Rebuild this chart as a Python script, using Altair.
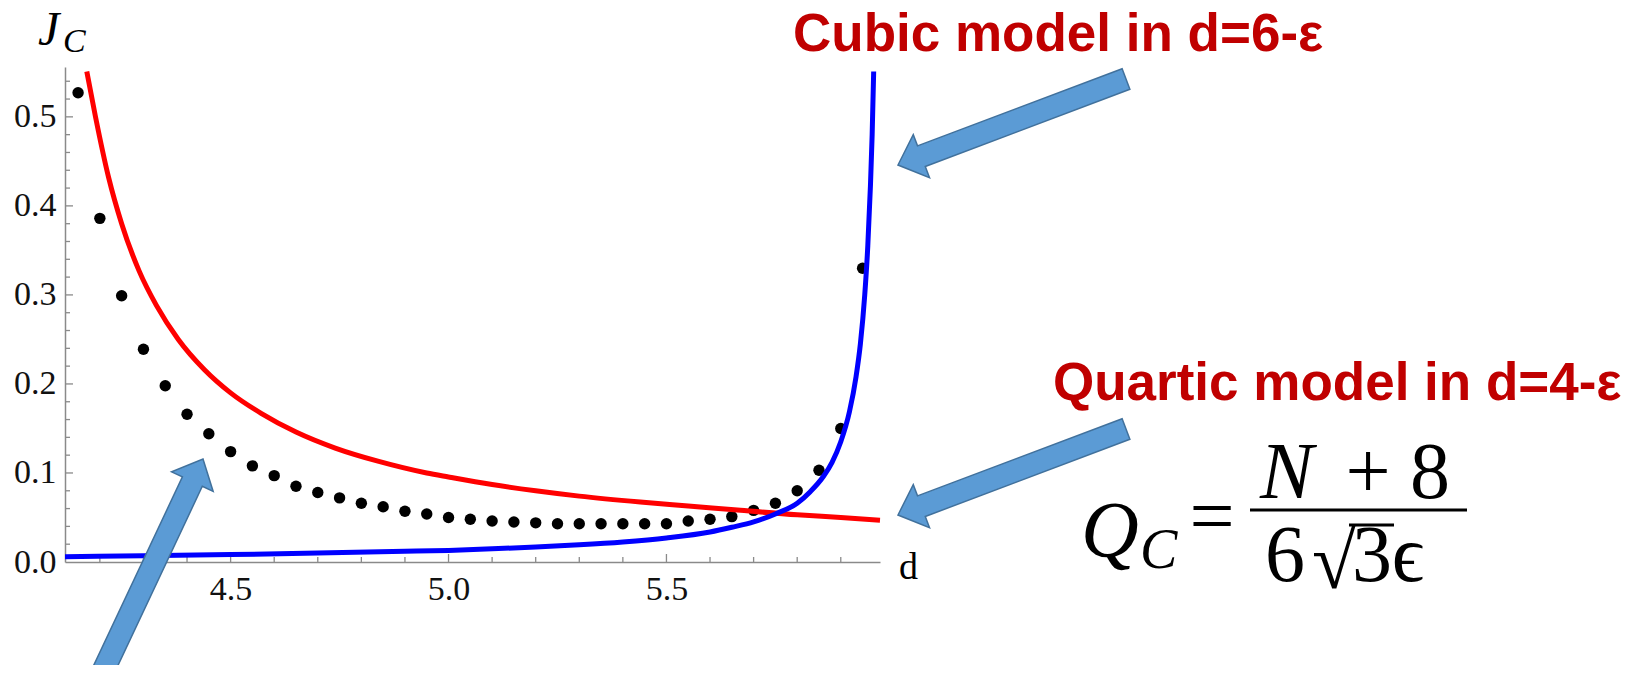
import math
import altair as alt
import pandas as pd

# ---------------- data ----------------
dot_d = [4.15, 4.20, 4.25, 4.30, 4.35, 4.40, 4.45, 4.50, 4.55, 4.60, 4.65, 4.70,
         4.75, 4.80, 4.85, 4.90, 4.95, 5.00, 5.05, 5.10, 5.15, 5.20, 5.25, 5.30,
         5.35, 5.40, 5.45, 5.50, 5.55, 5.60, 5.65, 5.70, 5.75, 5.80, 5.85, 5.90, 5.95]
dot_j = [0.527, 0.386, 0.299, 0.239, 0.198, 0.166, 0.144, 0.124, 0.108, 0.097, 0.085, 0.078,
         0.072, 0.066, 0.062, 0.057, 0.054, 0.050, 0.048, 0.046, 0.045, 0.044, 0.043, 0.043,
         0.043, 0.043, 0.043, 0.043, 0.046, 0.048, 0.051, 0.058, 0.066, 0.080, 0.103, 0.150, 0.330]

quartic_d = [4.17, 4.19, 4.22, 4.25, 4.29, 4.33, 4.38, 4.44, 4.50, 4.57, 4.65, 4.74,
             4.84, 4.95, 5.00, 5.10, 5.20, 5.30, 5.44, 5.55, 5.67, 5.80, 5.90, 5.99]
quartic_j = [0.551, 0.500, 0.432, 0.380, 0.327, 0.288, 0.250, 0.216, 0.190, 0.167, 0.146, 0.128,
             0.113, 0.100, 0.0955, 0.087, 0.080, 0.074, 0.0674, 0.063, 0.058, 0.053, 0.050, 0.047]

cubic_d = [4.12, 4.30, 4.50, 4.70, 4.90, 5.00, 5.10, 5.20, 5.30, 5.40, 5.50, 5.60, 5.65,
           5.70, 5.75, 5.80, 5.83, 5.86, 5.88, 5.90, 5.92, 5.935, 5.945, 5.955, 5.962,
           5.968, 5.972, 5.9755]
cubic_j = [0.0060, 0.0070, 0.0083, 0.0100, 0.0120, 0.0130, 0.0148, 0.0168, 0.0193, 0.0225,
           0.0270, 0.0337, 0.0390, 0.0450, 0.0540, 0.0660, 0.0790, 0.0960, 0.1120, 0.1350,
           0.1690, 0.2080, 0.2450, 0.3000, 0.3550, 0.4220, 0.4800, 0.5510]

x_tick_labels = [4.5, 5.0, 5.5]
x_minor_ticks = [4.2, 4.3, 4.4, 4.6, 4.7, 4.8, 4.9, 5.1, 5.2, 5.3, 5.4, 5.6, 5.7, 5.8, 5.9]
y_tick_labels = [0.0, 0.1, 0.2, 0.3, 0.4, 0.5]
y_major_ticks = [0.1, 0.2, 0.3, 0.4, 0.5]
y_minor_ticks = [0.02, 0.04, 0.06, 0.08, 0.12, 0.14, 0.16, 0.18, 0.22, 0.24, 0.26, 0.28,
                 0.32, 0.34, 0.36, 0.38, 0.42, 0.44, 0.46, 0.48, 0.52, 0.54]

title_cubic = "Cubic model in d=6-ε"
title_quartic = "Quartic model in d=4-ε"

# ---------------- layout ----------------
W, H = 815, 495          # plot area
OX, OY = 65, 67          # plot origin on the page


def px(x):
    return x - OX


def py(y):
    return y - OY


AXIS_GREY = "#8a8a8a"
SERIF = "Liberation Serif"
SANS = "Liberation Sans"
RED_TXT = "#C00000"

x_scale = alt.Scale(domain=[4.12, 5.99], zero=False, nice=False)
y_scale = alt.Scale(domain=[0, 0.556], zero=False, nice=False)

one = pd.DataFrame({"k": [0]})

x_axis = alt.Axis(values=x_tick_labels, format=".1f", title=None, ticks=False, tickSize=0,
                  grid=False, domainColor=AXIS_GREY, domainWidth=1.5, labelFont=SERIF,
                  labelFontSize=34, labelColor="#111111", labelPadding=10)
y_axis = alt.Axis(values=y_tick_labels, format=".1f", title=None, ticks=False, tickSize=0,
                  grid=False, domainColor=AXIS_GREY, domainWidth=1.5, labelFont=SERIF,
                  labelFontSize=34, labelColor="#111111", labelPadding=9)

X = lambda f: alt.X(f, scale=x_scale, axis=x_axis)
Y = lambda f: alt.Y(f, scale=y_scale, axis=y_axis)

dots = alt.Chart(pd.DataFrame({"d": dot_d, "J": dot_j})).mark_circle(
    size=130, color="black", opacity=1
).encode(x=X("d:Q"), y=Y("J:Q"))

red = alt.Chart(pd.DataFrame({"d": quartic_d, "J": quartic_j})).mark_line(
    color="#FF0000", strokeWidth=5, interpolate="monotone"
).encode(x=X("d:Q"), y=Y("J:Q"))

blue = alt.Chart(pd.DataFrame({"d": cubic_d, "J": cubic_j})).mark_line(
    color="#0000FF", strokeWidth=5, interpolate="monotone"
).encode(x=X("d:Q"), y=Y("J:Q"))

# inward ticks (Mathematica style)
xt_major = alt.Chart(pd.DataFrame({"t": x_tick_labels})).mark_rule(color=AXIS_GREY, strokeWidth=1.3).encode(
    x=X("t:Q"), y=alt.value(H), y2=alt.value(H - 8))
xt_minor = alt.Chart(pd.DataFrame({"t": x_minor_ticks})).mark_rule(color=AXIS_GREY, strokeWidth=1.3).encode(
    x=X("t:Q"), y=alt.value(H), y2=alt.value(H - 5))
yt_major = alt.Chart(pd.DataFrame({"t": y_major_ticks})).mark_rule(color=AXIS_GREY, strokeWidth=1.3).encode(
    y=Y("t:Q"), x=alt.value(0), x2=alt.value(8))
yt_minor = alt.Chart(pd.DataFrame({"t": y_minor_ticks})).mark_rule(color=AXIS_GREY, strokeWidth=1.3).encode(
    y=Y("t:Q"), x=alt.value(0), x2=alt.value(5))


def txt(s, x, y, size, font=SERIF, color="#000000", weight="normal", style="normal",
        align="left", baseline="alphabetic"):
    return alt.Chart(one).mark_text(
        text=s, font=font, fontSize=size, fontWeight=weight, fontStyle=style,
        color=color, align=align, baseline=baseline
    ).encode(x=alt.value(px(x)), y=alt.value(py(y)))


def hline(x1, x2, y, width=3, color="#000000"):
    return alt.Chart(one).mark_rule(color=color, strokeWidth=width).encode(
        x=alt.value(px(x1)), x2=alt.value(px(x2)), y=alt.value(py(y)))


def arrow(tail, tip, shaft=22, head_w=46, head_l=25):
    dx, dy = tip[0] - tail[0], tip[1] - tail[1]
    L = math.hypot(dx, dy)
    ux, uy = dx / L, dy / L
    nx, ny = -uy, ux
    sw, hw = shaft / 2, head_w / 2
    pts = [
        (-L * ux + nx * sw, -L * uy + ny * sw),
        (-head_l * ux + nx * sw, -head_l * uy + ny * sw),
        (-head_l * ux + nx * hw, -head_l * uy + ny * hw),
        (0, 0),
        (-head_l * ux - nx * hw, -head_l * uy - ny * hw),
        (-head_l * ux - nx * sw, -head_l * uy - ny * sw),
        (-L * ux - nx * sw, -L * uy - ny * sw),
    ]
    path = "M" + " L".join(f"{a:.2f},{b:.2f}" for a, b in pts) + " Z"
    return alt.Chart(one).mark_point(
        shape=path, size=4, filled=True, fill="#5B9BD5", stroke="#41719C",
        strokeWidth=1.5, opacity=1
    ).encode(x=alt.value(px(tip[0])), y=alt.value(py(tip[1])))


annotations = [
    # axis labels
    txt("J", 38, 45, 48, style="italic"),
    txt("C", 63, 52, 34, style="italic"),
    txt("d", 899, 579, 38),
    # headings
    txt(title_cubic, 793, 51, 53, font=SANS, color=RED_TXT, weight="bold"),
    txt(title_quartic, 1053, 400, 53, font=SANS, color=RED_TXT, weight="bold"),
    # formula Q_c = (N+8)/(6 sqrt(3) eps)
    txt("Q", 1081, 557, 80, style="italic"),
    txt("C", 1140, 568, 56, style="italic"),
    txt("=", 1212, 543, 80, align="center"),
    hline(1250, 1467, 510, width=3),
    txt("N", 1260, 498, 80, style="italic"),
    txt("+", 1368, 498, 80, align="center"),
    txt("8", 1430, 498, 80, align="center"),
    txt("6", 1285, 581, 80, align="center"),
    txt("√", 1334, 588, 80, align="center"),
    txt("3", 1372, 581, 80, align="center"),
    txt("ϵ", 1408, 581, 80, font="Liberation Serif, DejaVu Serif", align="center"),
    hline(1349, 1394, 525, width=3),
    # arrows
    arrow((1126, 79), (898, 165)),
    arrow((1126, 429), (898, 515)),
    arrow((98, 682), (203, 459)),
]

chart = alt.layer(
    xt_major, xt_minor, yt_major, yt_minor, dots, red, blue, *annotations
).properties(
    width=W, height=H,
    autosize=alt.AutoSizeParams(type="none"),
    padding={"left": OX - 8, "top": OY - 8, "right": 745, "bottom": 103},
    background="white",
).configure_view(strokeWidth=0)

chart.save("out.html", embed_options={"renderer": "svg", "actions": False})
